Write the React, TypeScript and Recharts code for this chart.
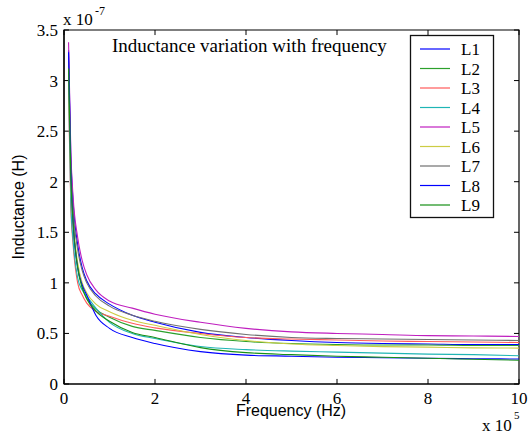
import React from "react";
import { LineChart, Line, XAxis, YAxis, ReferenceLine, ReferenceArea } from "recharts";

// Frequency (x 10^5 Hz)
const freq = [0.1, 0.15, 0.2, 0.3, 0.4, 0.5, 0.7, 1, 1.5, 2, 3, 4, 5, 6, 7, 8, 9, 10];
// Inductance (x 10^-7 H)
const L1 = [3.30, 2.25, 1.80, 1.38, 1.15, 1.02, 0.89, 0.79, 0.68, 0.61, 0.51, 0.46, 0.43, 0.41, 0.40, 0.395, 0.39, 0.39];
const L2 = [3.10, 2.00, 1.58, 1.17, 0.96, 0.85, 0.74, 0.66, 0.57, 0.53, 0.46, 0.42, 0.40, 0.39, 0.385, 0.385, 0.38, 0.38];
const L3 = [2.85, 1.75, 1.38, 1.00, 0.88, 0.80, 0.72, 0.67, 0.60, 0.555, 0.50, 0.46, 0.445, 0.435, 0.425, 0.42, 0.415, 0.41];
const L4 = [2.95, 1.80, 1.42, 1.05, 0.93, 0.87, 0.75, 0.61, 0.50, 0.45, 0.37, 0.34, 0.325, 0.315, 0.305, 0.295, 0.29, 0.28];
const L5 = [3.38, 2.30, 1.85, 1.45, 1.22, 1.08, 0.93, 0.82, 0.75, 0.69, 0.61, 0.55, 0.515, 0.50, 0.49, 0.478, 0.475, 0.47];
const L6 = [3.05, 2.00, 1.60, 1.20, 1.00, 0.90, 0.79, 0.715, 0.63, 0.58, 0.49, 0.43, 0.395, 0.38, 0.37, 0.365, 0.357, 0.355];
const L7 = [3.20, 2.15, 1.72, 1.33, 1.12, 1.00, 0.87, 0.77, 0.68, 0.62, 0.54, 0.49, 0.46, 0.45, 0.445, 0.44, 0.435, 0.43];
const L8 = [3.28, 2.10, 1.60, 1.15, 0.98, 0.88, 0.68, 0.55, 0.46, 0.40, 0.32, 0.285, 0.275, 0.265, 0.26, 0.255, 0.25, 0.247];
const L9 = [3.12, 2.05, 1.60, 1.15, 0.95, 0.84, 0.72, 0.62, 0.51, 0.46, 0.36, 0.31, 0.29, 0.275, 0.265, 0.255, 0.245, 0.235];

const seriesNames = ["L1", "L2", "L3", "L4", "L5", "L6", "L7", "L8", "L9"];
const seriesValues = [L1, L2, L3, L4, L5, L6, L7, L8, L9];
const seriesColors = ["#0000ff", "#2ca02c", "#ff5a5a", "#1fb5b5", "#bf1fbf", "#cccc44", "#707070", "#0000ff", "#179017"];

const xTicks = [0, 2, 4, 6, 8, 10];
const yTicks = [0, 0.5, 1, 1.5, 2, 2.5, 3, 3.5];

const data = freq.map((f, i) => {
  const row: Record<string, number> = { f };
  seriesNames.forEach((n, k) => {
    row[n] = seriesValues[k][i];
  });
  return row;
});

const SERIF = "'Liberation Serif', 'Times New Roman', serif";
const SANS = "'Liberation Sans', Arial, sans-serif";
const serifStyle = { fontFamily: SERIF };
const sansStyle = { fontFamily: SANS };

const renderXTick = (props: any) => {
  const { x, payload } = props;
  return (
    <text key={"xt" + payload.value} x={x} y={404} textAnchor="middle" style={serifStyle} fontSize={17} fill="#000">
      {payload.value}
    </text>
  );
};

const renderYTick = (props: any) => {
  const { y, payload } = props;
  return (
    <text key={"yt" + payload.value} x={58} y={y + 6} textAnchor="end" style={serifStyle} fontSize={17} fill="#000">
      {payload.value}
    </text>
  );
};

export default function App() {
  return (
    <div style={{ position: "absolute", left: 0, top: 0, width: 528, height: 434, background: "#fff" }}>
      <LineChart width={528} height={434} data={data} margin={{ top: 30, right: 9, bottom: 30, left: 0 }}>
        <XAxis
          dataKey="f"
          type="number"
          domain={[0, 10]}
          ticks={xTicks}
          allowDataOverflow
          height={20}
          tickLine={false}
          tickSize={0}
          interval={0}
          axisLine={{ stroke: "#000", strokeWidth: 1.2 }}
          tick={renderXTick}
        />
        <YAxis
          type="number"
          domain={[0, 3.5]}
          ticks={yTicks}
          allowDataOverflow
          width={64}
          tickLine={false}
          tickSize={0}
          interval={0}
          axisLine={{ stroke: "#000", strokeWidth: 1.2 }}
          tick={renderYTick}
        />
        <ReferenceArea x1={0} x2={10} y1={0} y2={3.5} fill="none" stroke="#000" strokeWidth={1.2} ifOverflow="visible" />
        {xTicks.map((t) => (
          <ReferenceLine key={"xb" + t} segment={[{ x: t, y: 0 }, { x: t, y: 0.05 }]} stroke="#000" ifOverflow="visible" />
        ))}
        {xTicks.map((t) => (
          <ReferenceLine key={"xt" + t} segment={[{ x: t, y: 3.5 }, { x: t, y: 3.45 }]} stroke="#000" ifOverflow="visible" />
        ))}
        {yTicks.map((t) => (
          <ReferenceLine key={"yl" + t} segment={[{ x: 0, y: t }, { x: 0.11, y: t }]} stroke="#000" ifOverflow="visible" />
        ))}
        {yTicks.map((t) => (
          <ReferenceLine key={"yr" + t} segment={[{ x: 10, y: t }, { x: 9.89, y: t }]} stroke="#000" ifOverflow="visible" />
        ))}
        {seriesNames.map((n, i) => (
          <Line
            key={n}
            dataKey={n}
            type="monotone"
            stroke={seriesColors[i]}
            strokeWidth={1.1}
            dot={false}
            isAnimationActive={false}
          />
        ))}
      </LineChart>
      <svg width={528} height={434} style={{ position: "absolute", left: 0, top: 0, pointerEvents: "none" }}>
        <text x={112} y={52} style={serifStyle} fontSize={19} fill="#000">
          Inductance variation with frequency
        </text>
        <text x={63} y={25} style={serifStyle} fontSize={17} fill="#000">x 10</text>
        <text x={95} y={15} style={serifStyle} fontSize={12} fill="#000">-7</text>
        <text x={482} y={431} style={serifStyle} fontSize={17} fill="#000">x 10</text>
        <text x={514} y={419} style={serifStyle} fontSize={11} fill="#000">5</text>
        <text x={291} y={416} textAnchor="middle" style={sansStyle} fontSize={16} fill="#000">
          Frequency (Hz)
        </text>
        <text
          x={0}
          y={0}
          transform="translate(24 207) rotate(-90)"
          textAnchor="middle"
          style={sansStyle}
          fontSize={16}
          fill="#000"
        >
          Inductance (H)
        </text>
        <g>
          <rect x={410.5} y={35.5} width={83} height={182} fill="#fff" stroke="#111" strokeWidth={1.3} />
          {seriesNames.map((n, i) => (
            <g key={n}>
              <line x1={420} x2={450} y1={49 + i * 19.5} y2={49 + i * 19.5} stroke={seriesColors[i]} strokeWidth={1.2} />
              <text x={461} y={55 + i * 19.5} style={serifStyle} fontSize={17} fill="#000">
                {n}
              </text>
            </g>
          ))}
        </g>
      </svg>
    </div>
  );
}
